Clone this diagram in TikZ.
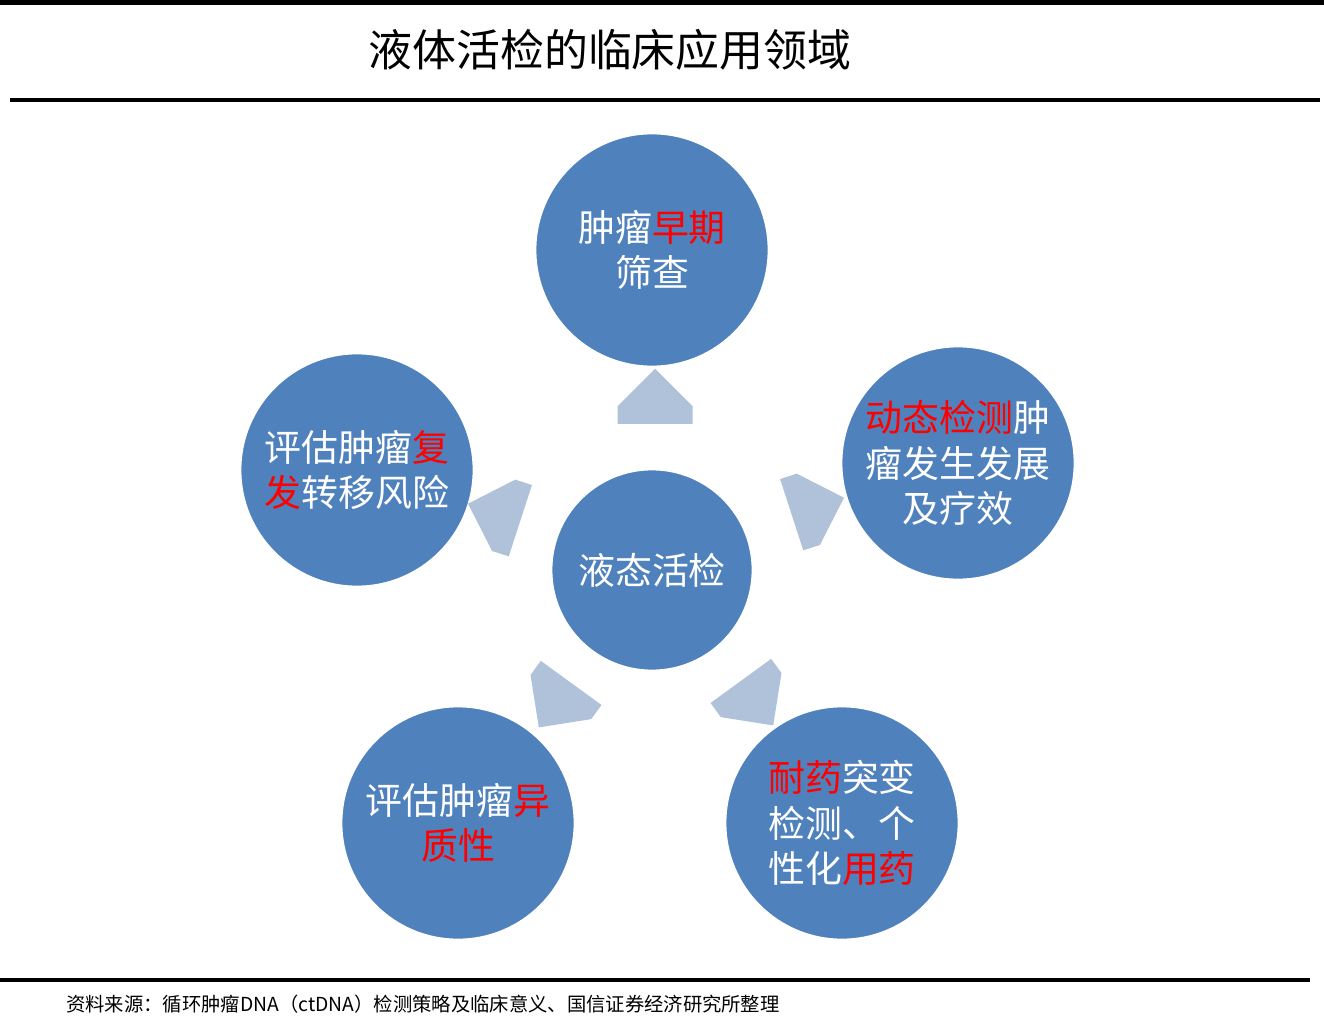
\documentclass[tikz,border=0pt]{standalone}
\usepackage{fontspec}
\setmainfont{Noto Sans CJK SC}
\usetikzlibrary{shapes.arrows,shadows}
\definecolor{ballblue}{HTML}{4F81BD}
\definecolor{arrowgrey}{HTML}{AFC2DA}
\definecolor{hotred}{HTML}{FF0000}
\newcommand{\hl}[1]{\textcolor{hotred}{#1}}
\tikzset{
  ball/.style={circle, fill=ballblue, draw=white, line width=5pt, minimum size=240*0.02cm,
    text=white, font=\fontsize{21}{26}\selectfont, align=center, inner sep=0pt,
    drop shadow={shadow xshift=1pt, shadow yshift=-2pt, fill=black!35}},
  hub/.style={ball, minimum size=208*0.02cm},
  blockarrow/.style={single arrow, fill=arrowgrey, minimum height=55*0.02cm,
    minimum width=75*0.02cm, single arrow head extend=0pt, inner sep=0pt,
    single arrow tip angle=90, shape border uses incircle}
}
\begin{document}
\begin{tikzpicture}[x=0.02cm,y=-0.02cm]
\useasboundingbox[fill=white] (0,0) rectangle (1324,1030);
% Rules and title
\draw[line width=3pt] (0,2) -- (1324,2);
\draw[line width=2.5pt] (10,100) -- (1320,100);
\draw[line width=2.5pt] (0,980) -- (1310,980);
\node (title) at (610,50) {\fontsize{25}{30}\selectfont 液体活检的临床应用领域};
\node[anchor=west] (source) at (60,1004) {\fontsize{11}{13}\selectfont 资料来源：循环肿瘤DNA（ctDNA）检测策略及临床意义、国信证券经济研究所整理};

% Circles
\node[hub]  (hub)    at (652,570) {液态活检};
\node[ball] (screen) at (652,250) {肿瘤\hl{早期}\\筛查};
\node[ball] (dyn)    at (958,463) {\hl{动态检测}肿\\瘤发生发展\\及疗效};
\node[ball] (relapse) at (357,470) {评估肿瘤\hl{复}\\\hl{发}转移风险};
\node[ball] (hetero) at (458,823) {评估肿瘤\hl{异}\\\hl{质性}};
\node[ball] (resist) at (842,823) {\hl{耐药}突变\\检测、个\\性化\hl{用药}};

% Arrows
\node[blockarrow, rotate=90]   (up)    at (655,415) {};
\node[blockarrow, rotate=18]   (right) at (800,512) {};
\node[blockarrow, rotate=162]  (left)  at (512,518) {};
\node[blockarrow, rotate=-126] (dl)    at (566,690) {};
\node[blockarrow, rotate=-54]  (dr)    at (746,688) {};
\end{tikzpicture}
\end{document}
